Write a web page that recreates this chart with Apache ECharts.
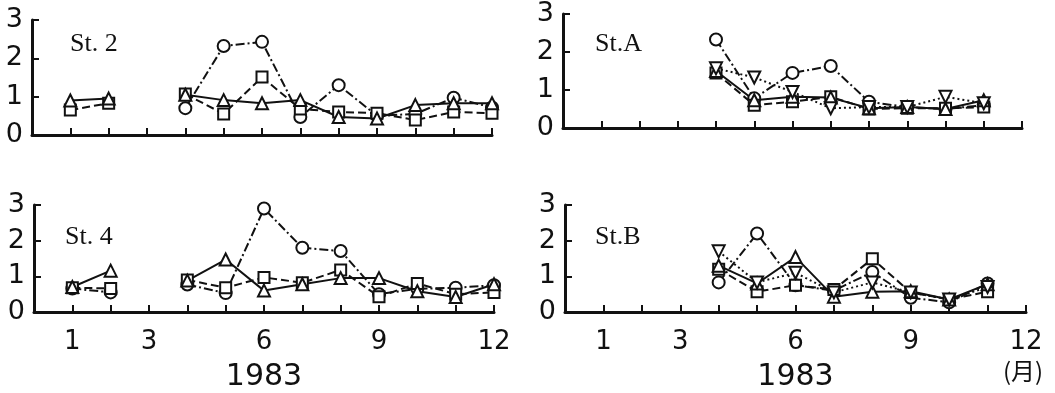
<!DOCTYPE html>
<html>
<head>
<meta charset="utf-8">
<script src="https://cdn.jsdelivr.net/npm/echarts@6/dist/echarts.min.js"></script>
<style>
  html, body { margin: 0; padding: 0; background: #fff; }
  #main { width: 1055px; height: 393px; }
</style>
</head>
<body>
<div id="main"></div>
<script>
// months 1..12, null = no sample
var months = [1, 2, 3, 4, 5, 6, 7, 8, 9, 10, 11, 12];
var xTickLabels = [1, 3, 6, 9, 12];
var yearLabel = '1983';
var stations = ['St. 2', 'St.A', 'St. 4', 'St.B'];

var st2Circle = [null, null, null, 0.70, 2.32, 2.43, 0.47, 1.30, 0.50, 0.55, 0.97, 0.72];
var st2Square = [0.65, 0.83, null, 1.07, 0.55, 1.51, 0.68, 0.60, 0.57, 0.39, 0.60, 0.57];
var st2TriUp  = [0.90, 0.95, null, 1.05, 0.91, 0.83, 0.91, 0.47, 0.43, 0.78, 0.83, 0.83];

var stACircle  = [null, null, null, 2.33, 0.78, 1.45, 1.63, 0.69, 0.55, 0.50, 0.60, null];
var stASquare  = [null, null, null, 1.45, 0.60, 0.69, 0.82, 0.50, 0.52, 0.52, 0.55, null];
var stATriUp   = [null, null, null, 1.50, 0.73, 0.82, 0.80, 0.52, 0.55, 0.50, 0.73, null];
var stATriDown = [null, null, null, 1.57, 1.33, 0.95, 0.52, 0.55, 0.55, 0.82, 0.65, null];

var st4Circle = [0.66, 0.55, null, 0.77, 0.53, 2.90, 1.80, 1.71, 0.50, 0.65, 0.68, 0.75];
var st4Square = [0.68, 0.66, null, 0.90, 0.68, 0.97, 0.82, 1.18, 0.43, 0.80, 0.50, 0.55];
var st4TriUp  = [0.70, 1.16, null, 0.88, 1.47, 0.60, 0.78, 0.95, 0.95, 0.58, 0.42, 0.78];

var stBCircle  = [null, null, null, 0.83, 2.20, 0.75, 0.60, 1.12, 0.40, 0.27, 0.80, null];
var stBSquare  = [null, null, null, 1.20, 0.57, 0.75, 0.63, 1.49, 0.55, 0.35, 0.57, null];
var stBTriUp   = [null, null, null, 1.30, 0.80, 1.54, 0.43, 0.57, 0.58, 0.35, 0.78, null];
var stBTriDown = [null, null, null, 1.70, 0.83, 1.10, 0.55, 0.83, 0.55, 0.35, 0.70, null];

var chart = echarts.init(document.getElementById('main'));

var grids = [
  { left: 32, top: 20, width: 460, height: 115 },
  { left: 563, top: 14, width: 459, height: 114 },
  { left: 34, top: 205, width: 460, height: 114 },
  { left: 565, top: 205, width: 461, height: 113 }
];

var ink = '#111';

function pairs(vals) {
  return months.map(function (m, i) { return [m, vals[i]]; });
}

// one line series per marker kind
function line(idx, vals, symbol, dash, rotate) {
  return {
    type: 'line',
    xAxisIndex: idx,
    yAxisIndex: idx,
    data: pairs(vals),
    connectNulls: false,
    symbol: symbol,
    symbolSize: symbol === 'rect' ? 11 : 12,
    symbolRotate: rotate || 0,
    showAllSymbol: true,
    lineStyle: { color: ink, width: 2, type: dash },
    itemStyle: { color: '#fff', borderColor: ink, borderWidth: 2 },
    animation: false
  };
}

var dashDot = [9, 3, 2, 3];
var dashed = [8, 4];
var dotted = [2, 3];

var xAxes = grids.map(function (g, i) {
  var bottom = i >= 2;
  return {
    gridIndex: i,
    type: 'value',
    min: 0,
    max: 12,
    interval: 1,
    axisLine: { lineStyle: { color: ink, width: 3 } },
    axisTick: { inside: true, length: 7, lineStyle: { color: ink, width: 2 } },
    splitLine: { show: false },
    axisLabel: {
      show: bottom,
      color: ink,
      fontFamily: 'DejaVu Sans',
      fontSize: 26,
      margin: 17,
      formatter: function (v) { return xTickLabels.indexOf(v) >= 0 ? String(v) : ''; }
    },
    name: bottom ? yearLabel : '',
    nameLocation: 'middle',
    nameGap: 50,
    nameTextStyle: { color: ink, fontFamily: 'DejaVu Sans', fontSize: 30 }
  };
});

var yAxes = grids.map(function (g, i) {
  return {
    gridIndex: i,
    type: 'value',
    min: 0,
    max: 3,
    interval: 1,
    axisLine: { show: true, lineStyle: { color: ink, width: 3 } },
    axisTick: { show: true, inside: true, length: 7, lineStyle: { color: ink, width: 2 } },
    splitLine: { show: false },
    axisLabel: { color: ink, fontFamily: 'DejaVu Sans', fontSize: 27, margin: 9 }
  };
});

var series = [
  line(0, st2Circle, 'circle', dashDot),
  line(0, st2Square, 'rect', dashed),
  line(0, st2TriUp, 'triangle', 'solid'),

  line(1, stACircle, 'circle', dashDot),
  line(1, stASquare, 'rect', dashed),
  line(1, stATriUp, 'triangle', 'solid'),
  line(1, stATriDown, 'triangle', dotted, 180),

  line(2, st4Circle, 'circle', dashDot),
  line(2, st4Square, 'rect', dashed),
  line(2, st4TriUp, 'triangle', 'solid'),

  line(3, stBCircle, 'circle', dashDot),
  line(3, stBSquare, 'rect', dashed),
  line(3, stBTriUp, 'triangle', 'solid'),
  line(3, stBTriDown, 'triangle', dotted, 180)
];

var labelPos = [[70, 31], [595, 31], [65, 224], [595, 224]];
var graphic = stations.map(function (s, i) {
  return {
    type: 'text',
    left: labelPos[i][0],
    top: labelPos[i][1],
    style: { text: s, fill: ink, fontSize: 26, fontFamily: 'Liberation Serif' }
  };
});
graphic.push({
  type: 'text',
  left: 1003,
  top: 359,
  style: { text: '(月)', fill: ink, fontSize: 24, fontFamily: 'Noto Sans CJK JP' }
});

var option = {
  backgroundColor: '#fff',
  grid: grids,
  xAxis: xAxes,
  yAxis: yAxes,
  series: series,
  graphic: graphic
};

chart.setOption(option);
</script>
</body>
</html>
